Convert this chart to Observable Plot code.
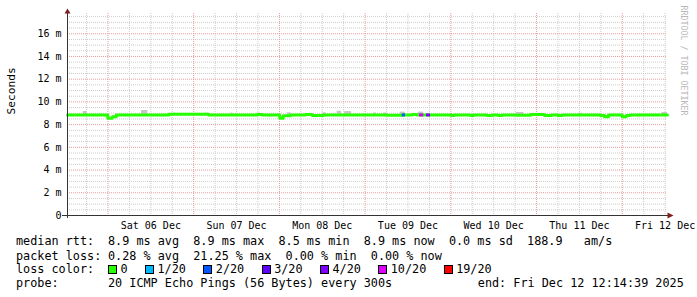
<!DOCTYPE html>
<html><head><meta charset="utf-8">
<script src="https://cdn.jsdelivr.net/npm/d3@7"></script>
<script src="https://cdn.jsdelivr.net/npm/@observablehq/plot@0.6"></script>
<style>
html,body{margin:0;padding:0;background:#fff;}
#wrap{position:relative;width:697px;height:297px;overflow:hidden;font-family:"DejaVu Sans Mono",monospace;background:#fff;}
#chart{position:absolute;left:0;top:0;}
.row{position:absolute;left:16px;height:14px;line-height:14px;font-size:11.8px;white-space:pre;color:#000;display:flex;align-items:center;}
.row span{flex:none;}
.lab{display:inline-block;width:92px;}
.box{display:inline-block;width:7px;height:7px;border:1px solid #000;margin-right:3.5px;box-sizing:content-box;}
.gap{display:inline-block;width:17.4px;}
</style></head><body><div id="wrap"><div id="chart"></div></div>
<script>
// ---- data ----
const startISO = "2025-12-05T12:40:00Z";   // left edge of the 7 day window
const spanHours = 168;
const segHours = [0, 11.28, 12.52, 13.64, 28.36, 39.56, 53.12, 54.52, 59.44, 60.4, 62.44, 66.64, 68.52, 71.6, 89.52, 93.72, 94.64, 96.52, 97.92, 98.56, 99.76, 100.52, 101.64, 107.52, 108.28, 112.84, 113.68, 117.52, 118.92, 120.68, 121.72, 125.72, 129.64, 133.56, 135.52, 137.4, 138.52, 149.24, 150.36, 151.48, 155.32, 156.44, 157.64];
const medianMs = [8.85, 8.55, 8.7, 8.85, 8.92, 8.85, 8.88, 8.85, 8.55, 8.77, 8.85, 8.9, 8.8, 8.85, 8.83, 8.85, 8.85, 8.9, 8.85, 8.85, 8.85, 8.85, 8.85, 8.8, 8.85, 8.8, 8.85, 8.8, 8.85, 8.8, 8.85, 8.82, 8.88, 8.8, 8.85, 8.8, 8.85, 8.8, 8.7, 8.85, 8.7, 8.8, 8.85];
const lossPings = [0,0,0,0,0,0,0,0,0,0,0,0,0,0,0,2,0,0,0,10,0,4,0,0,0,0,0,0,0,0,0,0,0,0,0,0,0,0,0,0,0,0,0];
const smokeFromH = [4.4, 20.7, 29.5, 38.6, 45.6, 53.1, 61.5, 71.5, 75.5, 77.6, 85.7, 88.5, 93.2, 98.3, 125.7, 143.1, 166.5];
const smokeToH   = [5.5, 22.5, 30.2, 39.4, 46.4, 54.0, 62.6, 72.4, 76.7, 79.5, 86.5, 89.5, 94.6, 99.7, 127.8, 144.1, 168];
const smokeMaxMs = [9.15, 9.24, 9.0, 9.0, 9.0, 9.02, 9.04, 9.04, 9.18, 9.15, 9.02, 9.02, 9.1, 9.1, 9.07, 9.0, 9.07];
const yMax = 17.78;
const yTickValues = [0, 2, 4, 6, 8, 10, 12, 14, 16];
const yTickLabels = ["0", "2 m", "4 m", "6 m", "8 m", "10 m", "12 m", "14 m", "16 m"];
const xTickISO = ["2025-12-06T12:00:00Z","2025-12-07T12:00:00Z","2025-12-08T12:00:00Z","2025-12-09T12:00:00Z","2025-12-10T12:00:00Z","2025-12-11T12:00:00Z","2025-12-12T12:00:00Z"];
const xTickLabels = ["Sat 06 Dec","Sun 07 Dec","Mon 08 Dec","Tue 09 Dec","Wed 10 Dec","Thu 11 Dec","Fri 12 Dec"];
const lossKeys = [0, 1, 2, 3, 4, 10, 19];
const lossLabels = ["0", "1/20", "2/20", "3/20", "4/20", "10/20", "19/20"];
const lossColors = ["#26ff00", "#00b8ff", "#0059ff", "#5e00ff", "#7e00ff", "#dd00ff", "#ff0000"];
const medianStats = ["8.9 ms avg", "8.9 ms max", "8.5 ms min", "8.9 ms now", "0.0 ms sd", "188.9   am/s"];
const lossStats = ["0.28 % avg", "21.25 % max", "0.00 % min", "0.00 % now"];
const probeText = "20 ICMP Echo Pings (56 Bytes) every 300s";
const endText = "end: Fri Dec 12 12:14:39 2025";
const yLabel = "Seconds";
const watermark = "RRDTOOL / TOBI OETIKER";

// ---- build ----
const t0 = new Date(startISO);
const at = h => new Date(+t0 + h * 3600e3);
const t1 = at(spanHours);
const series = segHours.map((h, i) => ({t: at(h), v: medianMs[i], loss: lossPings[i]}));
const lineData = [...series, {t: t1, v: medianMs[medianMs.length - 1], loss: 0}];
const colorOf = l => lossColors[lossKeys.indexOf(l)];
const lossSegs = series.map((d, i) => ({...d, t2: lineData[i + 1].t})).filter(d => d.loss > 0);
const smoke = smokeFromH.map((h, i) => ({a: at(h), b: at(smokeToH[i]), lo: 8.85, hi: smokeMaxMs[i]}));
const majorX = d3.utcDay.range(t0, t1);
const minorX = d3.utcHour.every(6).range(t0, t1).filter(d => d.getUTCHours() !== 0);
const majorY = yTickValues.filter(v => v > 0);
const minorY = d3.range(0.5, yMax, 0.5).filter(v => v % 2 !== 0);
const xTicks = xTickISO.map(s => new Date(s));
const xLab = new Map(xTicks.map((d, i) => [+d, xTickLabels[i]]));
const yLab = new Map(yTickValues.map((v, i) => [v, yTickLabels[i]]));

const arrowUp = {draw(c){ c.moveTo(0,-4); c.lineTo(3,1); c.lineTo(-3,1); c.closePath(); }};
const arrowRight = {draw(c){ c.moveTo(6,0); c.lineTo(0,-3); c.lineTo(0,3); c.closePath(); }};
const gridGrey = "#cccccc", gridRed = "#e99a9a", axisCol = "#333";

const chart = Plot.plot({
  width: 697, height: 233,
  marginLeft: 67, marginRight: 30, marginTop: 13, marginBottom: 18,
  x: {type: "utc", domain: [t0, t1], axis: null},
  y: {domain: [0, yMax], axis: null},
  style: {fontFamily: "DejaVu Sans Mono", fontSize: "10px", background: "#fff", color: "#000", overflow: "visible"},
  marks: [
    Plot.ruleY(minorY, {stroke: gridGrey, strokeDasharray: "1,1"}),
    Plot.ruleX(minorX, {stroke: gridGrey, strokeDasharray: "1,1"}),
    Plot.ruleY(majorY, {stroke: gridRed, strokeDasharray: "1,1"}),
    Plot.ruleX(majorX, {stroke: gridRed, strokeDasharray: "1,1"}),
    Plot.rect(smoke, {x1: "a", x2: "b", y1: "lo", y2: "hi", fill: "#c6c6c6"}),
    Plot.line(lineData, {x: "t", y: "v", curve: "step-after", stroke: lossColors[0], strokeWidth: 3}),
    Plot.ruleY(lossSegs, {x1: "t", x2: "t2", y: "v", stroke: d => colorOf(d.loss), strokeWidth: 3}),
    Plot.ruleY([0], {stroke: axisCol, insetLeft: -5, insetRight: -1}),
    Plot.ruleX([t0], {stroke: axisCol, insetTop: -1, insetBottom: -3}),
    Plot.dot([0], {x: () => t0, y: () => yMax, symbol: arrowUp, fill: "#7f1f1f", stroke: "none", dy: -1}),
    Plot.dot([0], {x: () => t1, y: () => 0, symbol: arrowRight, fill: "#7f1f1f", stroke: "none"}),
    Plot.axisX({ticks: xTicks, tickFormat: d => xLab.get(+d), tickSize: 0, tickPadding: 6, label: null, fill: "#000"}),
    Plot.axisY({ticks: yTickValues, tickFormat: d => yLab.get(d), tickSize: 0, tickPadding: 6, label: null, fill: "#000"}),
    Plot.text([yLabel], {frameAnchor: "left", dx: -56, rotate: -90, fontSize: 11.2, fill: "#000"}),
    Plot.text([watermark], {frameAnchor: "top-right", dx: 19, dy: -8, rotate: 90, textAnchor: "start", fontSize: 8.3, fill: "#b8b8b8"})
  ]
});
document.getElementById("chart").appendChild(chart);

// ---- legend (below the chart) ----
const wrap = document.getElementById("wrap");
function row(top) { const r = document.createElement("div"); r.className = "row"; r.style.top = top + "px"; wrap.appendChild(r); return r; }
function span(parent, cls, text) { const s = document.createElement("span"); if (cls) s.className = cls; if (text != null) s.textContent = text; parent.appendChild(s); return s; }
let r1 = row(234); span(r1, "lab", "median rtt:"); span(r1, null, medianStats.join("  "));
let r2 = row(248.7); span(r2, "lab", "packet loss:"); span(r2, null, lossStats.join("  "));
let r3 = row(262.3); span(r3, "lab", "loss color:");
lossLabels.forEach((l, i) => {
  const b = span(r3, "box"); b.style.background = lossColors[i];
  span(r3, null, l);
  if (i < lossLabels.length - 1) span(r3, "gap");
});
let r4 = row(276.3); span(r4, "lab", "probe:"); span(r4, null, probeText);
const e = document.createElement("div"); e.className = "row"; e.style.top = "276.3px"; e.style.left = "477.8px"; e.textContent = endText; wrap.appendChild(e);
</script>
</body></html>
